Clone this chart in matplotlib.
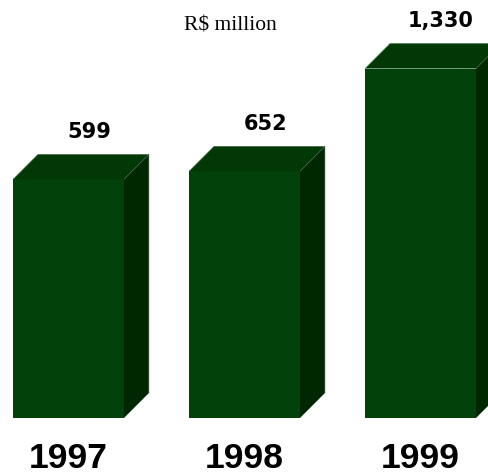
import numpy as np
import matplotlib.pyplot as plt
from matplotlib.patches import Polygon

# Revenue by year, R$ million
years = ['1997', '1998', '1999']
values = [599, 652, 1330]
value_labels = ['599', '652', '1,330']

# colours of the three visible faces of each box
front_col = '#02420a'
top_col = '#013806'
side_col = '#002800'
edge_col = '#4d724d'

base = -975          # where the boxes start on the value axis
width = 0.63         # front face width
dx = 0.142           # depth offset in x
dy = 165             # depth offset in value units

fig = plt.figure(figsize=(4.89, 4.72), dpi=100)
ax = fig.add_axes([0, 0, 1, 1])
ax.set_xlim(-0.389, 2.389)
ax.set_ylim(-1331, 1782)
ax.axis('off')

x = np.arange(len(values))
for xi, v, lab, yr in zip(x, values, value_labels, years):
    x0 = xi - width / 2
    x1 = xi + width / 2
    # front face
    ax.bar(xi, v - base, width=width, bottom=base, color=front_col, zorder=3)
    # top face
    ax.add_patch(Polygon([(x0, v), (x1, v), (x1 + dx, v + dy), (x0 + dx, v + dy)],
                         closed=True, facecolor=top_col, edgecolor='none', zorder=3))
    # side face
    ax.add_patch(Polygon([(x1, base), (x1, v), (x1 + dx, v + dy), (x1 + dx, base + dy)],
                         closed=True, facecolor=side_col, edgecolor='none', zorder=3))
    # faint highlight on the back edges
    ax.plot([x0, x0 + dx, x1 + dx, x1 + dx], [v, v + dy, v + dy, base + dy],
            color=edge_col, lw=0.4, zorder=4)
    ax.plot([x1, x1 + dx], [v, v + dy], color=edge_col, lw=0.3, zorder=4)
    # value label above the box
    ax.text(xi + 0.117, v + dy + 110, lab, ha='center', va='baseline',
            fontsize=15, fontweight='bold', family='DejaVu Sans', color='black')
    # year under the box
    ax.text(xi, base - 330, yr, ha='center', va='baseline',
            fontsize=25.5, fontweight='bold', family='Liberation Sans', color='black')

ax.text(0.917, 1580, 'R$ million', ha='center', va='baseline',
        fontsize=15.5, family='Liberation Serif', color='black')

fig.savefig('out.png', dpi=100)
